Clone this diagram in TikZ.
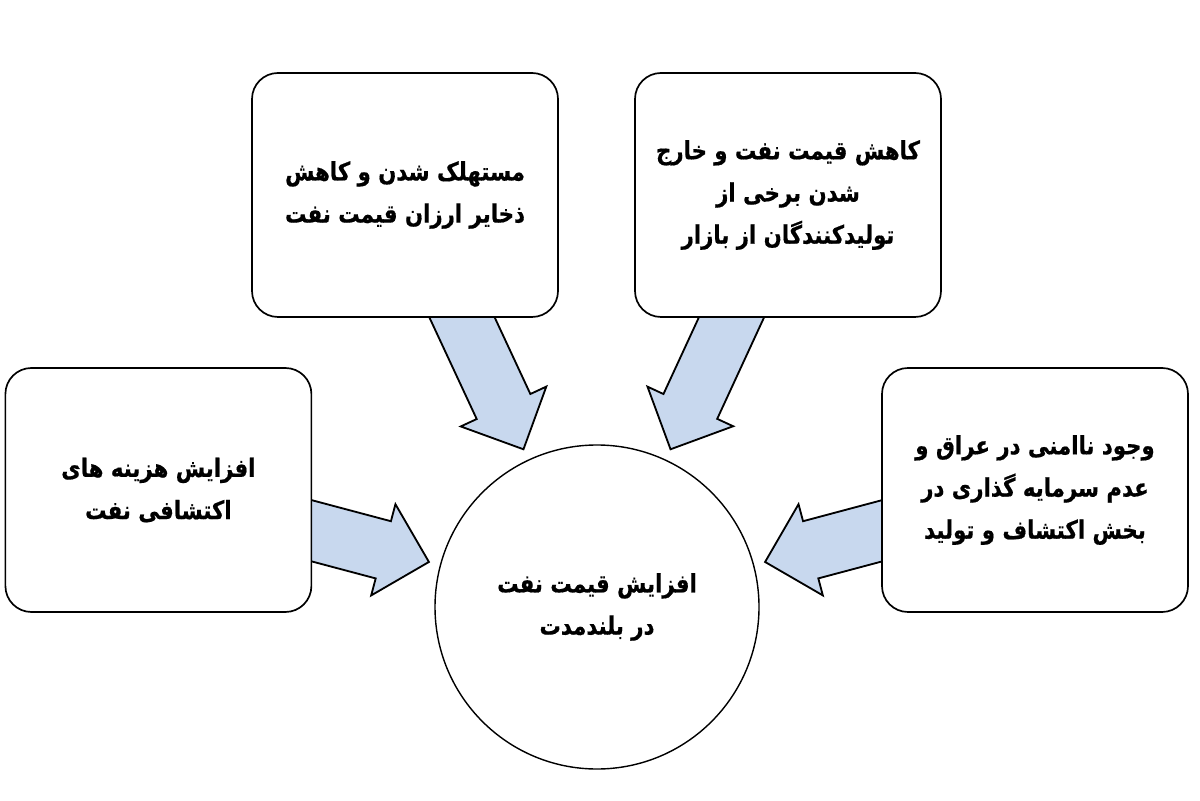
\documentclass[tikz,border=0pt]{standalone}
\usepackage{fontspec}
\newfontfamily\farsi[Script=Arabic,FakeStretch=0.84,FakeBold=0.6]{DejaVu Sans}
\TeXXeTstate=1
\usetikzlibrary{calc,backgrounds}
\definecolor{arrowblue}{RGB}{200,216,238}

\newcommand{\arrshaft}{0.74cm}
\newcommand{\arrhead}{1.18cm}
% fat arrow from one node to another
\newcommand{\bigarrow}[2]{%
    \draw[flow] let \p1=(#1), \p2=(#2),
        \n1={atan2(\y2-\y1,\x2-\x1)}, \n2={veclen(\x2-\x1,\y2-\y1)} in
        (\p1) ++(\n1+90:\arrshaft) --++ (\n1:{\n2-\arrhead}) --++ (\n1+90:{\arrhead-\arrshaft})
        --++ (\n1-45:{\arrhead*sqrt(2)}) --++ (\n1-135:{\arrhead*sqrt(2)})
        --++ (\n1+90:{\arrhead-\arrshaft}) --++ (\n1+180:{\n2-\arrhead}) -- cycle;
}

\begin{document}
\begin{tikzpicture}[
    txt/.style={align=center, font={\farsi\bfseries\fontsize{18pt}{30pt}\selectfont}},
    box/.style={txt, draw, line width=1.2pt, fill=white, rounded corners=0.65cm,
        minimum width=7.65cm, minimum height=6.1cm, inner sep=0pt},
    hub/.style={txt, circle, draw, line width=1pt, fill=white, minimum size=8.1cm, outer sep=0.3cm},
    flow/.style={draw=black, line width=1.3pt, fill=arrowblue, line join=miter}
]
    \useasboundingbox (0,0) rectangle (30,20);

    \node[box] (tl) at (10.125,15.125) {\beginR مستهلک شدن و کاهش\endR\\\beginR ذخایر ارزان قیمت نفت\endR};
    \node[box] (tr) at (19.7,15.125) {\beginR کاهش قیمت نفت و خارج\endR\\\beginR شدن برخی از\endR\\\beginR تولیدکنندگان از بازار\endR};
    \node[box] (l) at (3.96,7.75) {\beginR افزایش هزینه های\endR\\\beginR اکتشافی نفت\endR};
    \node[box] (r) at (25.875,7.75) {\beginR وجود ناامنی در عراق و\endR\\\beginR عدم سرمایه گذاری در\endR\\\beginR بخش اکتشاف و تولید\endR};
    \node[hub] (c) at (14.925,4.825) {\beginR افزایش قیمت نفت\endR\\\beginR در بلندمدت\endR};

    \begin{scope}[on background layer]
        \foreach \from/\ang in {tl/115, tr/65, l/165, r/15}{
            \bigarrow{\from.center}{c.\ang}
        }
    \end{scope}
\end{tikzpicture}
\end{document}
